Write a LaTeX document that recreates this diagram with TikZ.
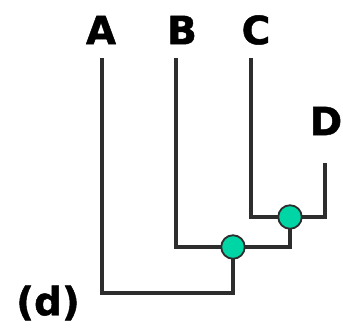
\documentclass[tikz,border=0pt]{standalone}
\usepackage{fontspec}
\setmainfont{DejaVu Sans}[BoldFeatures={FakeBold=1.2}]
\definecolor{nodeteal}{RGB}{0,214,165}
\definecolor{branchgray}{RGB}{45,45,45}
\begin{document}
\begin{tikzpicture}[x=1pt,y=-1pt,
  lbl/.style={font=\bfseries\fontsize{39}{39}\selectfont, inner sep=0pt},
  branch/.style={draw=branchgray, line width=3.6pt},
  junction/.style={circle, draw=branchgray, line width=1.8pt, fill=nodeteal, minimum size=23.5pt, inner sep=0pt}]
\useasboundingbox (0,0) rectangle (343,330);
\node[lbl] (la) at (101,30) {A};
\node[lbl] (lb) at (182,30) {B};
\node[lbl] (lc) at (256,30) {C};
\node[lbl] (ld) at (326,121) {D};
\node[lbl] (lbl-d) at (48,303) {(d)};
\coordinate (a) at (102,58);
\coordinate (b) at (176,58);
\coordinate (c) at (251,58);
\coordinate (d) at (325,163);
\coordinate (cd) at (290,217);
\coordinate (bcd) at (233,247);
\coordinate (root) at (233,293);
\draw[branch] (c) |- (cd) -| (d);
\draw[branch] (b) |- (bcd) -| (cd);
\draw[branch] (a) |- (root) -- (bcd);
\node[junction] (n1) at (cd) {};
\node[junction] (n2) at (bcd) {};
\end{tikzpicture}
\end{document}
